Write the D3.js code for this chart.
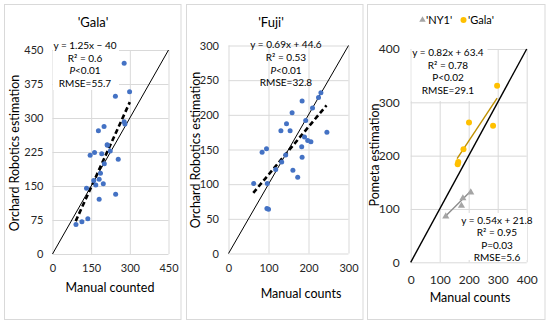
<!DOCTYPE html>
<html>
<head>
<meta charset="utf-8">
<script src="https://cdn.jsdelivr.net/npm/d3@7"></script>
<style>
  body { margin: 0; background: #fff; }
  text { font-family: Lato, "Open Sans", sans-serif; }
</style>
</head>
<body>
<svg id="chart" width="550" height="326"></svg>
<script>
// ---- data ----
let galaManual = [278, 299, 244, 278, 281, 178, 200, 213, 212, 146, 163, 191, 224, 255, 201, 186, 181, 160, 197, 168, 132, 245, 181, 137, 114, 91];
let galaRobot  = [421, 358, 348, 292, 287, 272, 281, 240, 241, 218, 224, 221, 227, 209, 199, 178, 165, 162, 155, 152, 145, 132, 121, 78, 71, 65];

let fujiManual = [231, 225, 184, 210, 159, 193, 145, 131, 154, 246, 190, 198, 206, 183, 184, 84, 95, 143, 133, 118, 161, 173, 63, 97, 96, 100];
let fujiRobot  = [232, 225, 220, 210, 203, 192, 187, 177, 177, 175, 168, 163, 161, 154, 139, 146, 151, 142, 132, 121, 120, 110, 101, 101, 65, 64];

let pomGalaManual = [298, 201, 284, 182, 164, 162];
let pomGalaEst    = [331, 262, 256, 212, 188, 184];
let ny1Manual = [121, 175, 180, 207];
let ny1Est    = [86, 106, 120, 131];

// trend lines: slope, intercept, x from, x to
let galaFit = [1.25, -40, 90, 300];
let fujiFit = [0.69, 44.6, 62, 245];
let pomGalaFit = [0.82, 63.4, 160, 298];
let ny1Fit = [0.54, 21.8, 118, 210];

let galaTicks = [0, 150, 300, 450];
let galaYTicks = [0, 75, 150, 225, 300, 375, 450];
let fujiTicks = [0, 100, 200, 300];
let fujiYTicks = [0, 50, 100, 150, 200, 250, 300];
let pomTicks = [0, 100, 200, 300, 400];

let galaStats = ["y = 1.25x \u2212 40", "R\u00b2 = 0.6", "P<0.01", "RMSE=55.7"];
let fujiStats = ["y = 0.69x + 44.6", "R\u00b2 = 0.53", "P<0.01", "RMSE=32.8"];
let pomGalaStats = ["y = 0.82x + 63.4", "R\u00b2 = 0.78", "P<0.02", "RMSE=29.1"];
let ny1Stats = ["y = 0.54x + 21.8", "R\u00b2 = 0.95", "P=0.03", "RMSE=5.6"];

let svg = d3.select("#chart");
let grid = "#d9d9d9";

function panel(p) {
  let g = svg.append("g");

  g.append("rect")
    .attr("x", p.box[0]).attr("y", p.box[1])
    .attr("width", p.box[2]).attr("height", p.box[3])
    .attr("fill", "#fff").attr("stroke", grid);

  let x = d3.scaleLinear().domain(p.xDomain).range(p.xRange);
  let y = d3.scaleLinear().domain(p.yDomain).range(p.yRange);
  let h = p.yRange[0] - p.yRange[1];
  let w = p.xRange[1] - p.xRange[0];

  let xa = g.append("g")
    .attr("transform", "translate(0," + p.yRange[0] + ")")
    .call(d3.axisBottom(x).tickValues(p.xTicks).tickSize(-h).tickPadding(p.xPad));
  let ya = g.append("g")
    .attr("transform", "translate(" + p.xRange[0] + ",0)")
    .call(d3.axisLeft(y).tickValues(p.yTicks).tickSize(-w).tickPadding(p.yPad));
  [xa, ya].forEach(a => {
    a.select(".domain").remove();
    a.selectAll("line").attr("stroke", grid);
    a.selectAll("text").attr("font-size", p.tickFont).attr("fill", "#262626").attr("font-family", "Lato, sans-serif");
  });

  // white boxes behind the stats labels
  (p.covers || []).forEach(c => {
    g.append("rect").attr("x", c[0]).attr("y", c[1]).attr("width", c[2]).attr("height", c[3]).attr("fill", "#fff");
  });

  // 1:1 line
  g.append("line")
    .attr("x1", x(0)).attr("y1", y(0))
    .attr("x2", x(p.xDomain[1])).attr("y2", y(p.xDomain[1]))
    .attr("stroke", "#000").attr("stroke-width", p.oneWidth);

  p.series.forEach(s => {
    let pts = s.xs.map((v, i) => [v, s.ys[i]]);
    let f = s.fit;
    g.append("line")
      .attr("x1", x(f[2])).attr("y1", y(f[0] * f[2] + f[1]))
      .attr("x2", x(f[3])).attr("y2", y(f[0] * f[3] + f[1]))
      .attr("stroke", s.lineColor).attr("stroke-width", s.lineWidth)
      .attr("stroke-dasharray", s.dash || null);
    if (s.shape === "tri") {
      g.selectAll(null).data(pts).enter().append("path")
        .attr("d", d3.symbol(d3.symbolTriangle, 22))
        .attr("transform", d => "translate(" + x(d[0]) + "," + y(d[1]) + ")")
        .attr("fill", s.color);
    } else {
      g.selectAll(null).data(pts).enter().append("circle")
        .attr("cx", d => x(d[0])).attr("cy", d => y(d[1]))
        .attr("r", s.r).attr("fill", s.color);
    }
  });

  p.labels.forEach(l => {
    let t = g.append("text").attr("x", l.x).attr("text-anchor", "middle")
      .attr("font-size", l.size).attr("fill", "#000");
    l.lines.forEach((s, i) => {
      let ts = t.append("tspan").attr("x", l.x).attr("y", l.y + i * l.step);
      if (s.indexOf("P") === 0 && l.italicP) {
        ts.append("tspan").attr("font-style", "italic").text("P");
        ts.append("tspan").text(s.slice(1));
      } else ts.text(s);
    });
  });

  if (p.title) g.append("text").attr("x", p.title[1]).attr("y", p.title[2])
    .attr("text-anchor", "middle").attr("font-size", 13).text(p.title[0]);

  g.append("text").attr("x", p.xTitle[1]).attr("y", p.xTitle[2])
    .attr("text-anchor", "middle").attr("font-size", 12.5).attr("fill", "#000").text(p.xTitle[0]);
  g.append("text")
    .attr("transform", "translate(" + p.yTitle[1] + "," + p.yTitle[2] + ") rotate(-90)")
    .attr("text-anchor", "middle").attr("dy", "0.35em").attr("font-size", 12.5).text(p.yTitle[0]);
  return g;
}

panel({
  box: [4.5, 4.5, 176.5, 315],
  xDomain: [0, 450], yDomain: [0, 450],
  xRange: [52.5, 168.5], yRange: [254, 50],
  xTicks: galaTicks, yTicks: galaYTicks, xPad: 10, yPad: 9, tickFont: 11,
  covers: [[53, 36, 66, 54]],
  oneWidth: 1,
  series: [{ xs: galaManual, ys: galaRobot, fit: galaFit, color: "#4472c4", r: 2.5,
    lineColor: "#000", lineWidth: 2.6, dash: "5,3" }],
  labels: [{ x: 85, y: 49, step: 12.7, size: 10, lines: galaStats, italicP: true }],
  title: ["'Gala'", 93, 27],
  xTitle: ["Manual counted", 110, 291.5],
  yTitle: ["Orchard Robotics estimation", 15, 153]
});

panel({
  box: [186.5, 4.5, 176.5, 315],
  xDomain: [0, 300], yDomain: [0, 300],
  xRange: [228.5, 348.5], yRange: [253.5, 45.5],
  xTicks: fujiTicks, yTicks: fujiYTicks, xPad: 10.5, yPad: 9.5, tickFont: 11,
  oneWidth: 1,
  series: [{ xs: fujiManual, ys: fujiRobot, fit: fujiFit, color: "#4472c4", r: 2.5,
    lineColor: "#000", lineWidth: 2.6, dash: "5,3" }],
  labels: [{ x: 286, y: 48, step: 12.8, size: 10, lines: fujiStats, italicP: true }],
  title: ["'Fuji'", 271, 27],
  xTitle: ["Manual counts", 301, 298],
  yTitle: ["Orchard Robotics estimation", 196, 150]
});

let p3 = panel({
  box: [367.5, 4.5, 177.5, 315],
  xDomain: [0, 400], yDomain: [0, 400],
  xRange: [410.7, 526.7], yRange: [262.3, 49],
  xTicks: pomTicks, yTicks: pomTicks, xPad: 13, yPad: 11, tickFont: 12,
  covers: [[411.5, 40, 76, 61], [466, 213, 61, 47]],
  oneWidth: 1.4,
  series: [
    { xs: pomGalaManual, ys: pomGalaEst, fit: pomGalaFit, color: "#ffc000", r: 3,
      lineColor: "#bf9000", lineWidth: 1.4 },
    { xs: ny1Manual, ys: ny1Est, fit: ny1Fit, color: "#a5a5a5", shape: "tri",
      lineColor: "#8c8c8c", lineWidth: 1.4 }
  ],
  labels: [
    { x: 448, y: 56, step: 12.6, size: 10, lines: pomGalaStats },
    { x: 497, y: 224, step: 12.3, size: 10, lines: ny1Stats }
  ],
  xTitle: ["Manual counts", 470, 302],
  yTitle: ["Pometa estimation", 375, 155]
});

// legend
let leg = p3.append("g");
leg.append("path").attr("d", d3.symbol(d3.symbolTriangle, 18))
  .attr("transform", "translate(422.5,20)").attr("fill", "#a5a5a5");
leg.append("text").attr("x", 426).attr("y", 24).attr("font-size", 11).text("'NY1'");
leg.append("circle").attr("cx", 463.5).attr("cy", 20).attr("r", 3).attr("fill", "#ffc000");
leg.append("text").attr("x", 468).attr("y", 24).attr("font-size", 11).text("'Gala'");
</script>
</body>
</html>
